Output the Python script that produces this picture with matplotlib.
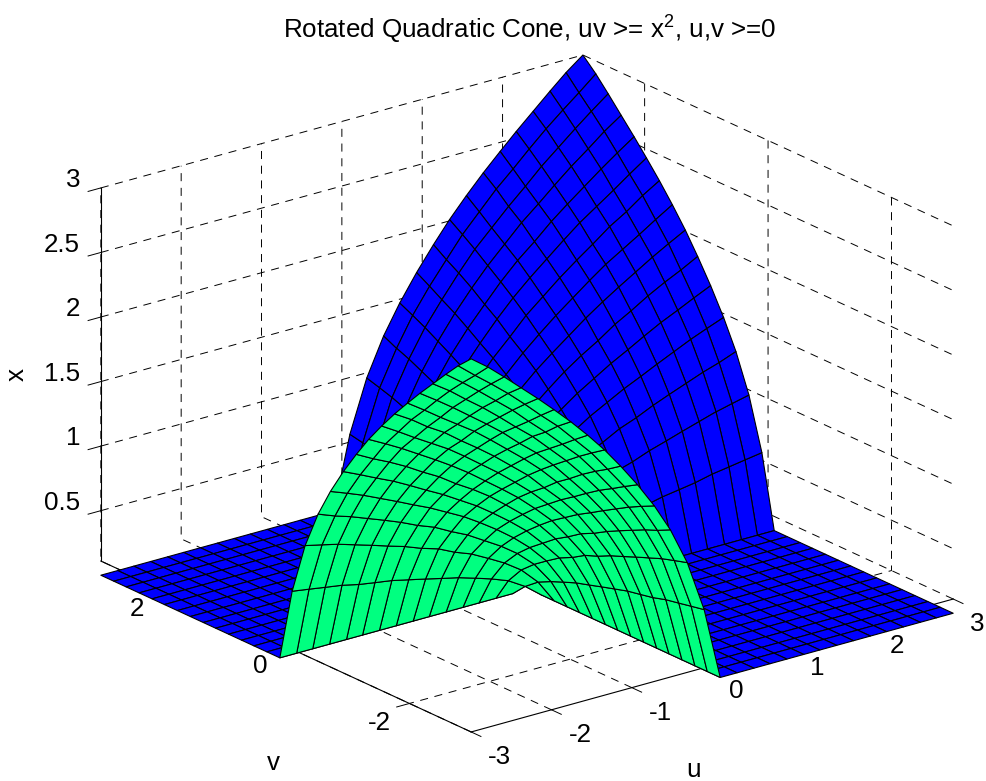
import numpy as np
import matplotlib
matplotlib.use("Agg")
import matplotlib.pyplot as plt

plt.rcParams["font.family"] = ["Liberation Sans", "DejaVu Sans"]
plt.rcParams["mathtext.default"] = "regular"
plt.rcParams["font.size"] = 18.7
plt.rcParams["lines.scale_dashes"] = False
plt.rcParams["grid.color"] = "black"
plt.rcParams["grid.linewidth"] = 0.7
plt.rcParams["grid.linestyle"] = (0, (5.8, 4.8))
plt.rcParams["axes.linewidth"] = 0.8

# grid values along u and v
grid_uv = [-3.00, -2.79, -2.59, -2.38, -2.17, -1.97, -1.76, -1.55, -1.34, -1.14,
           -0.93, -0.72, -0.52, -0.31, -0.10, 0.10, 0.31, 0.52, 0.72, 0.93,
           1.14, 1.34, 1.55, 1.76, 1.97, 2.17, 2.38, 2.59, 2.79, 3.00]

# surface height x in one quadrant, from the origin outwards
cone_x = [
    [0.10, 0.18, 0.23, 0.27, 0.31, 0.34, 0.37, 0.40, 0.43, 0.45, 0.47, 0.50, 0.52, 0.54, 0.56],
    [0.18, 0.31, 0.40, 0.47, 0.54, 0.59, 0.65, 0.69, 0.74, 0.78, 0.82, 0.86, 0.90, 0.93, 0.96],
    [0.23, 0.40, 0.52, 0.61, 0.69, 0.77, 0.83, 0.90, 0.95, 1.01, 1.06, 1.11, 1.16, 1.20, 1.25],
    [0.27, 0.47, 0.61, 0.72, 0.82, 0.91, 0.99, 1.06, 1.13, 1.19, 1.25, 1.31, 1.37, 1.42, 1.47],
    [0.31, 0.54, 0.69, 0.82, 0.93, 1.03, 1.12, 1.20, 1.28, 1.35, 1.42, 1.49, 1.55, 1.61, 1.67],
    [0.34, 0.59, 0.77, 0.91, 1.03, 1.14, 1.24, 1.33, 1.41, 1.50, 1.57, 1.65, 1.72, 1.78, 1.85],
    [0.37, 0.65, 0.83, 0.99, 1.12, 1.24, 1.34, 1.44, 1.54, 1.63, 1.71, 1.79, 1.87, 1.94, 2.01],
    [0.40, 0.69, 0.90, 1.06, 1.20, 1.33, 1.44, 1.55, 1.65, 1.75, 1.84, 1.92, 2.00, 2.08, 2.16],
    [0.43, 0.74, 0.95, 1.13, 1.28, 1.41, 1.54, 1.65, 1.76, 1.86, 1.95, 2.05, 2.13, 2.22, 2.30],
    [0.45, 0.78, 1.01, 1.19, 1.35, 1.50, 1.63, 1.75, 1.86, 1.97, 2.07, 2.16, 2.25, 2.34, 2.43],
    [0.47, 0.82, 1.06, 1.25, 1.42, 1.57, 1.71, 1.84, 1.95, 2.07, 2.17, 2.27, 2.37, 2.46, 2.55],
    [0.50, 0.86, 1.11, 1.31, 1.49, 1.65, 1.79, 1.92, 2.05, 2.16, 2.27, 2.38, 2.48, 2.58, 2.67],
    [0.52, 0.90, 1.16, 1.37, 1.55, 1.72, 1.87, 2.00, 2.13, 2.25, 2.37, 2.48, 2.59, 2.69, 2.79],
    [0.54, 0.93, 1.20, 1.42, 1.61, 1.78, 1.94, 2.08, 2.22, 2.34, 2.46, 2.58, 2.69, 2.79, 2.90],
    [0.56, 0.96, 1.25, 1.47, 1.67, 1.85, 2.01, 2.16, 2.30, 2.43, 2.55, 2.67, 2.79, 2.90, 3.00],
]

u_ticks = [-3, -2, -1, 0, 1, 2, 3]
v_ticks = [-2, 0, 2]
x_ticks = [0.5, 1, 1.5, 2, 2.5, 3]
x_tick_labels = ["0.5", "1", "1.5", "2", "2.5", "3"]

BLUE = (0, 0, 1, 1)
GREEN = (0, 1, 0.5, 1)

U, V = np.meshgrid(grid_uv, grid_uv)
cone = np.array(cone_x)
X = np.zeros_like(U)
X[15:, 15:] = cone
X[:15, :15] = cone[::-1, ::-1]

# cells take the colour of their first corner
colors = np.empty((29, 29, 4))
colors[:] = BLUE
colors[:15, :15] = GREEN

fig = plt.figure(figsize=(9.86, 7.81), dpi=100)
ax = fig.add_axes([20.7 / 986, -118.8 / 781, 1, 986 / 781], projection="3d")
ax.set_proj_type("ortho")
ax.view_init(elev=20.9, azim=-127.7)
ax.set_box_aspect((609.3, 605.6, 399.4), zoom=0.9327)
ax.patch.set_alpha(0)

ax.plot_surface(U, V, X, facecolors=colors, rstride=1, cstride=1, shade=False,
                edgecolor="black", linewidth=0.8, antialiased=True)

ax.set_xlim(-3, 3)
ax.set_ylim(-3, 3)
ax.set_zlim(0.11, 3)
ax.set_xticks(u_ticks)
ax.set_yticks(v_ticks)
ax.set_zticks(x_ticks)
ax.set_xticklabels([str(t) for t in u_ticks], va="center", ha="left")
ax.set_yticklabels([str(t) for t in v_ticks], va="center", ha="right")
ax.set_zticklabels(x_tick_labels, va="baseline", ha="right")
ax.tick_params(axis="x", pad=9)
ax.tick_params(axis="y", pad=6)
ax.tick_params(axis="z", pad=1)

for axis in (ax.xaxis, ax.yaxis, ax.zaxis):
    axis.pane.set_facecolor((1, 1, 1, 0))
    axis.pane.set_edgecolor((1, 1, 1, 0))
    # ticks point away from the walls, which is the "inward" factor here
    axis._axinfo["tick"]["inward_factor"] = 0.33
    axis._axinfo["tick"]["outward_factor"] = 0
    axis._axinfo["tick"]["linewidth"] = {True: 0.7, False: 0.5}
    axis._axinfo["axisline"]["color"] = "black"
    axis._axinfo["axisline"]["linewidth"] = 0.8

fig.text(530 / 986, 1 - 30 / 781, r"Rotated Quadratic Cone, uv >= x$^2$, u,v >=0",
         ha="center", va="center")
fig.text(693 / 986, 1 - 770 / 781, "u", ha="center", va="center")
fig.text(273 / 986, 1 - 763 / 781, "v", ha="center", va="center")
fig.text(17 / 986, 1 - 375 / 781, "x", ha="center", va="center", rotation=90)

fig.savefig("out.png", dpi=100)
